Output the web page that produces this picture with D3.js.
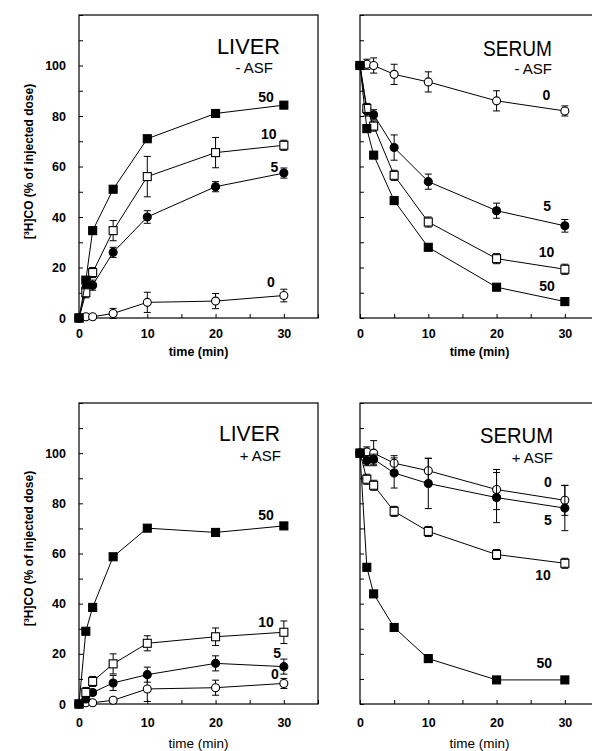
<!DOCTYPE html>
<html>
<head>
<meta charset="utf-8">
<script src="https://cdn.jsdelivr.net/npm/d3@7"></script>
<style>
  body { margin: 0; background: #fff; }
  svg { display: block; font-family: "Liberation Sans", Arial, sans-serif; }
</style>
</head>
<body>
<div id="chart"></div>
<script>
// sampling times (min)
var times = [0, 1, 2, 5, 10, 20, 30];

// LIVER - ASF
var liverMinus0  = [0, 0.5, 0.5, 1.8, 6.2, 6.7, 8.9];
var liverMinus5  = [0, 12, 13, 26, 40, 52, 57.4];
var liverMinus10 = [0, 10, 18, 34.6, 56, 65.5, 68.4];
var liverMinus50 = [0, 15, 34.6, 51, 71, 81, 84.3];
var liverMinus0Err  = [0, 0, 0, 2, 4, 3, 2.5];
var liverMinus5Err  = [0, 2, 2, 2, 2.5, 2, 2];
var liverMinus10Err = [0, 2, 2, 4, 8, 6, 2];

// SERUM - ASF
var serumMinus0  = [100, 100.5, 100, 96.5, 93.5, 86, 82];
var serumMinus5  = [100, 82, 80.5, 67.5, 54, 42.5, 36.5];
var serumMinus10 = [100, 83, 76, 56.5, 38, 23.5, 19.3];
var serumMinus50 = [100, 75, 64.5, 46.5, 28, 12.2, 6.5];
var serumMinus0Err  = [0, 2, 3, 4, 4, 4, 2];
var serumMinus5Err  = [0, 2, 2, 5, 3, 3, 2.5];
var serumMinus10Err = [0, 2, 2, 2, 2, 2, 2];

// LIVER + ASF
var liverPlus0  = [0, 0.5, 0.5, 1.5, 6, 6.5, 8.2];
var liverPlus5  = [0, 2, 4.6, 8.4, 11.7, 16.2, 14.9];
var liverPlus10 = [0, 4.6, 9, 16, 24.2, 26.8, 28.6];
var liverPlus50 = [0, 29, 38.5, 58.7, 70.1, 68.4, 71];
var liverPlus0Err  = [0, 0, 0, 1, 5, 3, 2];
var liverPlus5Err  = [0, 1, 1, 3, 3, 3, 3];
var liverPlus10Err = [0, 2, 2, 4, 3, 3.5, 4.5];

// SERUM + ASF
var serumPlus0  = [100, 100.5, 100, 96, 93, 85.5, 81.2];
var serumPlus5  = [100, 97, 97.6, 92.1, 87.9, 82.3, 78.1];
var serumPlus10 = [100, 89.6, 87.2, 76.8, 68.8, 59.6, 56.1];
var serumPlus50 = [100, 54.5, 43.9, 30.5, 18.1, 9.6, 9.6];
var serumPlus0Err  = [0, 2, 5, 3, 5, 8, 6];
var serumPlus5Err  = [0, 2, 2, 6, 10, 10, 9];
var serumPlus10Err = [0, 2, 2, 2, 2, 2, 2];

var xTickValues = [0, 5, 10, 15, 20, 25, 30, 35];
var yTickValues = [0, 10, 20, 30, 40, 50, 60, 70, 80, 90, 100, 110, 120];
var yLabel = "[\u00B3H]CO (% of injected dose)";

var width = 592, height = 751;

var svg = d3.select("#chart").append("svg")
  .attr("width", width)
  .attr("height", height);

// marker style per dose
var markerStyle = {
  "0":  {shape: "circle", fill: "#fff"},
  "5":  {shape: "circle", fill: "#000"},
  "10": {shape: "square", fill: "#fff"},
  "50": {shape: "square", fill: "#000"}
};

var panels = [
  {title: "LIVER", sub: "- ASF", left: 79, top: 15, bottom: 318, yLabels: true,
   titleX: 280, titleY: 54, titleLen: 63, subX: 273, subY: 73,
   timeY: 356, timeBold: true, tickPad: 11,
   series: [
     {dose: "0", vals: liverMinus0, err: liverMinus0Err, lab: [28.1, 14.3]},
     {dose: "5", vals: liverMinus5, err: liverMinus5Err, lab: [28.6, 59.8]},
     {dose: "10", vals: liverMinus10, err: liverMinus10Err, lab: [27.8, 72.9]},
     {dose: "50", vals: liverMinus50, err: null, lab: [27.4, 87.5]}
   ]},
  {title: "SERUM", sub: "- ASF", left: 360, top: 15, bottom: 318, yLabels: false,
   titleX: 552, titleY: 56, titleLen: 69, subX: 552, subY: 74,
   timeY: 356, timeBold: true, tickPad: 11,
   series: [
     {dose: "0", vals: serumMinus0, err: serumMinus0Err, lab: [27.3, 88.3]},
     {dose: "5", vals: serumMinus5, err: serumMinus5Err, lab: [27.4, 44.4]},
     {dose: "10", vals: serumMinus10, err: serumMinus10Err, lab: [27.3, 26.1]},
     {dose: "50", vals: serumMinus50, err: null, lab: [27.4, 12.7]}
   ]},
  {title: "LIVER", sub: "+ ASF", left: 79, top: 403, bottom: 704, yLabels: true,
   titleX: 280, titleY: 441, titleLen: 61, subX: 281, subY: 461,
   timeY: 748, timeBold: false, tickPad: 14,
   series: [
     {dose: "0", vals: liverPlus0, err: liverPlus0Err, lab: [28.7, 12.0]},
     {dose: "5", vals: liverPlus5, err: liverPlus5Err, lab: [29.0, 20.3]},
     {dose: "10", vals: liverPlus10, err: liverPlus10Err, lab: [27.4, 32.7]},
     {dose: "50", vals: liverPlus50, err: null, lab: [27.4, 75.4]}
   ]},
  {title: "SERUM", sub: "+ ASF", left: 360, top: 403, bottom: 704, yLabels: false,
   titleX: 553, titleY: 443, titleLen: 73, subX: 553, subY: 463,
   timeY: 748, timeBold: false, tickPad: 14,
   series: [
     {dose: "0", vals: serumPlus0, err: serumPlus0Err, lab: [27.5, 88.5]},
     {dose: "5", vals: serumPlus5, err: serumPlus5Err, lab: [27.5, 73.4]},
     {dose: "10", vals: serumPlus10, err: serumPlus10Err, lab: [26.8, 51.4]},
     {dose: "50", vals: serumPlus50, err: null, lab: [27.0, 16.3]}
   ]}
];

var panelWidth = 239;

panels.forEach(function(p) {
  var x = d3.scaleLinear().domain([0, 35]).range([p.left, p.left + panelWidth]);
  var y = d3.scaleLinear().domain([0, 120]).range([p.bottom, p.top]);
  var g = svg.append("g");

  // frame
  g.append("rect")
    .attr("x", p.left).attr("y", p.top)
    .attr("width", panelWidth).attr("height", p.bottom - p.top)
    .attr("fill", "none").attr("stroke", "#000").attr("stroke-width", 1.2);

  // axes with inward ticks
  var yAxis = d3.axisLeft(y)
    .tickValues(yTickValues)
    .tickSize(-4)
    .tickPadding(13)
    .tickFormat(function(d) { return (p.yLabels && d % 20 === 0 && d <= 100) ? d : ""; });
  var xAxis = d3.axisBottom(x)
    .tickValues(xTickValues)
    .tickSize(-4)
    .tickPadding(p.tickPad)
    .tickFormat(function(d) { return (d % 10 === 0 && d <= 30) ? d : ""; });

  [g.append("g").attr("transform", "translate(" + p.left + ",0)").call(yAxis),
   g.append("g").attr("transform", "translate(0," + p.bottom + ")").call(xAxis)]
    .forEach(function(ax) {
      ax.select(".domain").remove();
      ax.selectAll("line").attr("stroke", "#000");
      ax.selectAll("text")
        .attr("fill", "#000")
        .style("font-size", "12.5px")
        .style("font-weight", "bold");
    });

  // axis titles
  g.append("text")
    .attr("x", p.left + panelWidth / 2)
    .attr("y", p.timeY)
    .attr("text-anchor", "middle")
    .style("font-size", p.timeBold ? "12.5px" : "13.5px")
    .style("font-weight", p.timeBold ? "bold" : "normal")
    .text("time (min)");

  if (p.yLabels) {
    g.append("text")
      .attr("transform", "translate(33," + ((p.top + p.bottom) / 2 - 5) + ") rotate(-90)")
      .attr("text-anchor", "middle")
      .style("font-size", "12px")
      .style("font-weight", "bold")
      .text(yLabel);
  }

  // panel titles
  g.append("text")
    .attr("x", p.titleX).attr("y", p.titleY)
    .attr("text-anchor", "end")
    .attr("textLength", p.titleLen)
    .attr("lengthAdjust", "spacingAndGlyphs")
    .style("font-size", "22px")
    .text(p.title);
  g.append("text")
    .attr("x", p.subX).attr("y", p.subY)
    .attr("text-anchor", "end")
    .style("font-size", "15px")
    .text(p.sub);

  var line = d3.line()
    .x(function(d) { return x(d.t); })
    .y(function(d) { return y(d.v); });

  p.series.forEach(function(s) {
    var pts = times.map(function(t, i) {
      return {t: t, v: s.vals[i], e: s.err ? s.err[i] : 0};
    });

    g.append("path")
      .datum(pts)
      .attr("d", line)
      .attr("fill", "none")
      .attr("stroke", "#000")
      .attr("stroke-width", 1);

    // error bars
    var eb = g.append("g").selectAll("g")
      .data(pts.filter(function(d) { return d.e > 0; }))
      .enter().append("g")
      .attr("stroke", "#000").attr("stroke-width", 1);
    eb.append("line")
      .attr("x1", function(d) { return x(d.t); })
      .attr("x2", function(d) { return x(d.t); })
      .attr("y1", function(d) { return y(d.v - d.e); })
      .attr("y2", function(d) { return y(d.v + d.e); });
    [-1, 1].forEach(function(sign) {
      eb.append("line")
        .attr("x1", function(d) { return x(d.t) - 3.5; })
        .attr("x2", function(d) { return x(d.t) + 3.5; })
        .attr("y1", function(d) { return y(d.v + sign * d.e); })
        .attr("y2", function(d) { return y(d.v + sign * d.e); });
    });

    // markers
    var st = markerStyle[s.dose];
    if (st.shape === "circle") {
      g.append("g").selectAll("circle")
        .data(pts).enter().append("circle")
        .attr("cx", function(d) { return x(d.t); })
        .attr("cy", function(d) { return y(d.v); })
        .attr("r", 4)
        .attr("fill", st.fill)
        .attr("stroke", "#000").attr("stroke-width", 1.1);
    } else {
      g.append("g").selectAll("rect")
        .data(pts).enter().append("rect")
        .attr("x", function(d) { return x(d.t) - 4; })
        .attr("y", function(d) { return y(d.v) - 4; })
        .attr("width", 8).attr("height", 8)
        .attr("fill", st.fill)
        .attr("stroke", "#000").attr("stroke-width", 1.1);
    }

    // dose label
    g.append("text")
      .attr("x", x(s.lab[0]))
      .attr("y", y(s.lab[1]))
      .attr("dy", "0.36em")
      .attr("text-anchor", "middle")
      .style("font-size", "14px")
      .style("font-weight", "bold")
      .text(s.dose);
  });
});
</script>
</body>
</html>
